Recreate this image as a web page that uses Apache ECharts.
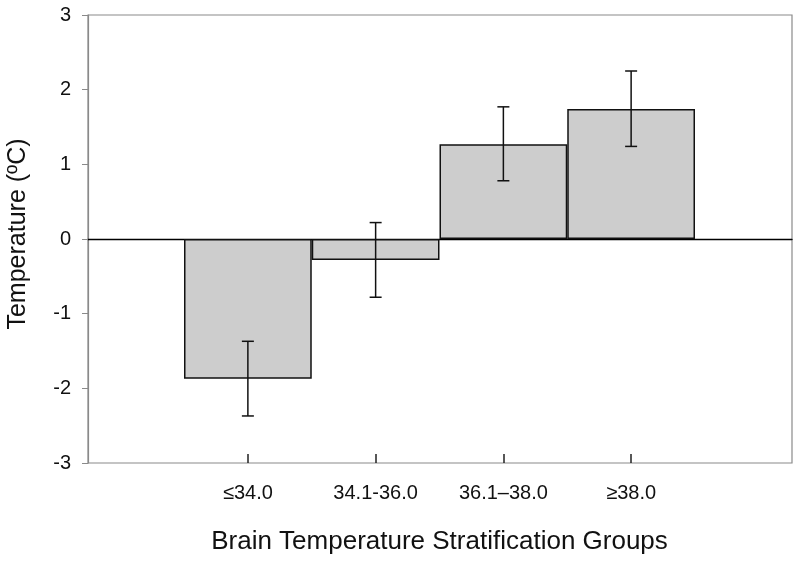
<!DOCTYPE html>
<html>
<head>
<meta charset="utf-8">
<script src="https://cdn.jsdelivr.net/npm/echarts@6/dist/echarts.min.js"></script>
<style>html,body{margin:0;padding:0;background:#fff;}#c{width:800px;height:561px;}</style>
</head>
<body>
<div id="c"></div>
<script>
var categories = ['\u226434.0', '34.1-36.0', '36.1\u201338.0', '\u226538.0'];
var means = [-1.87, -0.28, 1.27, 1.74];
var errLow = [-2.37, -0.78, 0.78, 1.24];
var errHigh = [-1.37, 0.22, 1.77, 2.25];
var yTicks = [-3, -2, -1, 0, 1, 2, 3];

var FONT = 'Liberation Sans, Arial, sans-serif';
var chart = echarts.init(document.getElementById('c'));
var errData = categories.map(function (c, i) { return [i, errLow[i], errHigh[i]]; });

chart.setOption({
  animation: false,
  grid: [
    { left: 88, right: 8, top: 15, bottom: 98, show: true, borderColor: '#8a8a8a', borderWidth: 1.2, backgroundColor: 'transparent', containLabel: false, outerBoundsMode: 'none' },
    { left: 184, right: 105, top: 15, bottom: 98, containLabel: false, outerBoundsMode: 'none' }
  ],
  xAxis: [
    { gridIndex: 0, type: 'value', min: 0, max: 1,
      axisLine: { show: true, onZero: true, lineStyle: { color: '#000', width: 1.3 } },
      axisTick: { show: false }, axisLabel: { show: false }, splitLine: { show: false } },
    { gridIndex: 1, type: 'category', data: categories,
      axisLine: { show: false, onZero: false },
      axisTick: { show: true, inside: true, length: 9, alignWithLabel: true, lineStyle: { color: '#222', width: 1.5 } },
      axisLabel: { fontSize: 20, color: '#111', fontFamily: FONT, margin: 20 },
      name: 'Brain Temperature Stratification Groups', nameLocation: 'middle', nameGap: 66,
      nameTextStyle: { fontSize: 26, color: '#111', fontFamily: FONT } }
  ],
  yAxis: [
    { gridIndex: 0, type: 'value', min: yTicks[0], max: yTicks[yTicks.length - 1], interval: 1,
      axisLine: { show: true, lineStyle: { color: '#8a8a8a', width: 1.2 } },
      axisTick: { show: true, inside: false, length: 6, lineStyle: { color: '#8a8a8a' } },
      axisLabel: { fontSize: 20, color: '#111', fontFamily: FONT, margin: 17 },
      splitLine: { show: false },
      name: 'Temperature (\u00baC)', nameLocation: 'middle', nameGap: 57, nameRotate: 90,
      nameTextStyle: { fontSize: 25, color: '#111', fontFamily: FONT, padding: [0, 0, 0, 10] } },
    { gridIndex: 1, type: 'value', min: -3, max: 3, show: false }
  ],
  series: [
    { type: 'bar', xAxisIndex: 1, yAxisIndex: 1, data: means, barCategoryGap: '0%',
      itemStyle: { color: '#cdcdcd', borderColor: '#111', borderWidth: 1.5 } },
    { type: 'custom', xAxisIndex: 1, yAxisIndex: 1, data: errData, z: 5,
      renderItem: function (params, api) {
        var lo = api.coord([api.value(0), api.value(1)]);
        var hi = api.coord([api.value(0), api.value(2)]);
        var w = 6;
        var st = { stroke: '#111', lineWidth: 1.5 };
        return { type: 'group', children: [
          { type: 'line', shape: { x1: hi[0], y1: hi[1], x2: lo[0], y2: lo[1] }, style: st },
          { type: 'line', shape: { x1: hi[0] - w, y1: hi[1], x2: hi[0] + w, y2: hi[1] }, style: st },
          { type: 'line', shape: { x1: lo[0] - w, y1: lo[1], x2: lo[0] + w, y2: lo[1] }, style: st }
        ] };
      } }
  ]
});
</script>
</body>
</html>
